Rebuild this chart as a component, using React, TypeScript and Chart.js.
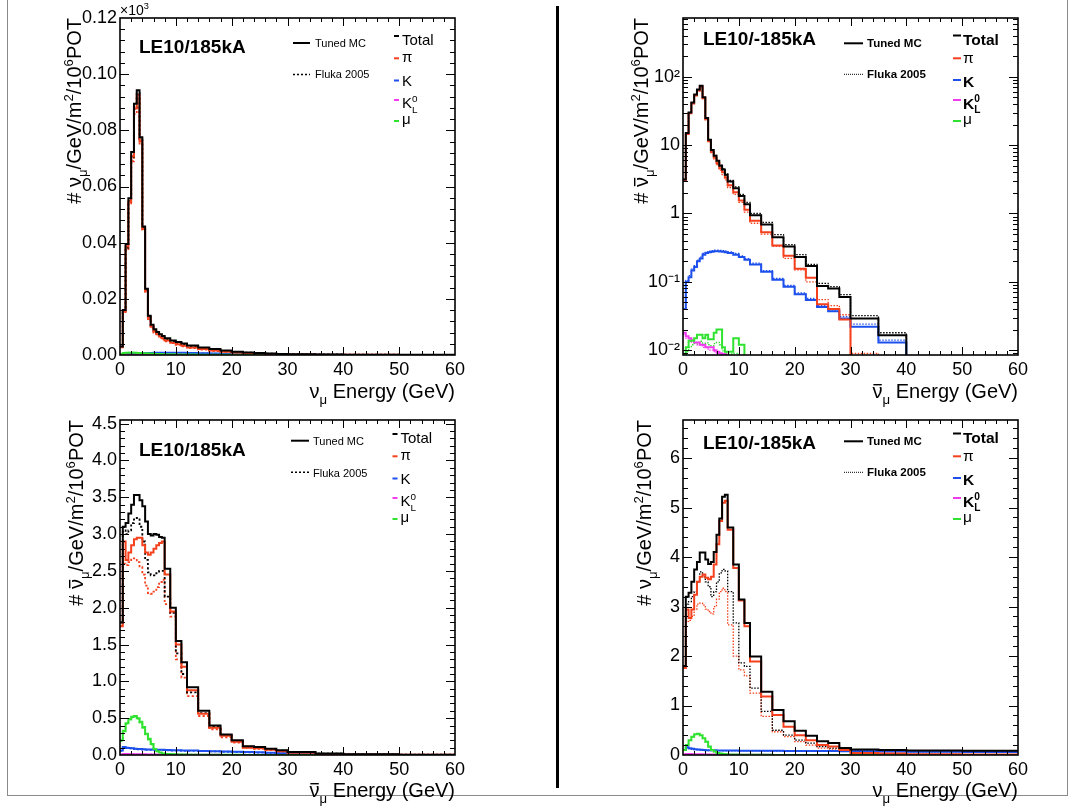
import { useEffect, useRef } from 'react';
import { Chart, registerables } from 'chart.js';

Chart.register(...registerables);

const FONT = "'Liberation Sans', Arial, Helvetica, sans-serif";
const W = 1076;
const H = 808;

// Energy bin edges (GeV) shared by every histogram
const BIN_EDGES = [0, 0.5, 1, 1.5, 2, 2.5, 3, 3.5, 4, 4.5, 5, 5.5, 6, 6.5, 7, 7.5, 8, 9, 10, 11, 12, 14, 16, 18, 20, 22, 24, 26, 28, 30, 35, 40, 50, 60];
const X_TICKS = [0, 10, 20, 30, 40, 50, 60];

// LE10/185kA, nu_mu (units of 10^3)
const P1_TOTAL_TUNED = [0.0030, 0.0160, 0.0395, 0.0558, 0.0723, 0.0895, 0.0943, 0.0775, 0.0458, 0.0236, 0.0140, 0.0108, 0.0092, 0.0082, 0.0074, 0.0068, 0.0060, 0.0052, 0.0046, 0.0041, 0.0034, 0.0027, 0.0021, 0.0016, 0.0012, 0.0009, 0.0007, 0.0005, 0.0004, 0.0003, 0.0002, 0.0001, 0.00005];
const P1_PI_TUNED = [0.0028, 0.0155, 0.0386, 0.0546, 0.0708, 0.0878, 0.0926, 0.0761, 0.0449, 0.0229, 0.0133, 0.0101, 0.0084, 0.0074, 0.0066, 0.0060, 0.0052, 0.0044, 0.0038, 0.0033, 0.0027, 0.0021, 0.0016, 0.0012, 0.0009, 0.0007, 0.0005, 0.0004, 0.0003, 0.0002, 0.0001, 0.00005, 0.00002];
const P1_K_TUNED = [0.0001, 0.0002, 0.0003, 0.0004, 0.0005, 0.0005, 0.0006, 0.0006, 0.0007, 0.0007, 0.0007, 0.0007, 0.0008, 0.0008, 0.0008, 0.0008, 0.0008, 0.0008, 0.0008, 0.0008, 0.0007, 0.0006, 0.0005, 0.0004, 0.0003, 0.0002, 0.0002, 0.0001, 0.0001, 0.0001, 0.00005, 0.00003, 0.00001];
const P1_K0_TUNED = [0.0001, 0.0001, 0.0001, 0.0001, 0.0001, 0.0001, 0.0001, 0.0001, 0.0001, 0.0001, 0.0001, 0.0001, 0.0001, 0.0001, 0.0001, 0.0001, 0.00008, 0.00007, 0.00006, 0.00005, 0.00004, 0.00003, 0.00002, 0.00002, 0.00001, 0.00001, 0, 0, 0, 0, 0, 0, 0];
const P1_MU_TUNED = [0.0004, 0.0007, 0.0008, 0.0008, 0.0008, 0.0008, 0.0007, 0.0007, 0.0006, 0.0006, 0.0005, 0.0005, 0.0004, 0.0004, 0.0004, 0.0003, 0.0003, 0.0003, 0.0002, 0.0002, 0.0002, 0.0001, 0.0001, 0.0001, 0.00005, 0.00005, 0.00003, 0.00002, 0.00001, 0.00001, 0, 0, 0];
const P1_TOTAL_FLUKA = [0.0030, 0.0158, 0.0382, 0.0548, 0.0706, 0.0876, 0.0932, 0.0768, 0.0455, 0.0233, 0.0136, 0.0103, 0.0087, 0.0077, 0.0069, 0.0063, 0.0056, 0.0049, 0.0043, 0.0038, 0.0031, 0.0025, 0.0019, 0.0015, 0.0011, 0.0008, 0.0006, 0.0005, 0.0004, 0.0003, 0.0002, 0.0001, 0.00005];
const P1_PI_FLUKA = [0.0028, 0.0153, 0.0373, 0.0536, 0.0690, 0.0858, 0.0914, 0.0753, 0.0446, 0.0225, 0.0128, 0.0096, 0.0080, 0.0070, 0.0062, 0.0056, 0.0049, 0.0042, 0.0036, 0.0031, 0.0025, 0.0019, 0.0014, 0.0011, 0.0008, 0.0006, 0.0004, 0.0003, 0.0002, 0.0002, 0.0001, 0.00005, 0.00002];
const P1_K_FLUKA = [0.0001, 0.0002, 0.0003, 0.0004, 0.0004, 0.0005, 0.0005, 0.0006, 0.0006, 0.0006, 0.0007, 0.0007, 0.0007, 0.0007, 0.0007, 0.0007, 0.0007, 0.0007, 0.0007, 0.0007, 0.0006, 0.0006, 0.0005, 0.0004, 0.0003, 0.0002, 0.0002, 0.0001, 0.0001, 0.0001, 0.00005, 0.00003, 0.00001];
const P1_K0_FLUKA = [0.0001, 0.0001, 0.0001, 0.0001, 0.0001, 0.0001, 0.0001, 0.0001, 0.0001, 0.0001, 0.0001, 0.0001, 0.0001, 0.0001, 0.0001, 0.0001, 0.00007, 0.00006, 0.00005, 0.00005, 0.00004, 0.00003, 0.00002, 0.00001, 0.00001, 0.00001, 0, 0, 0, 0, 0, 0, 0];
const P1_MU_FLUKA = [0.0004, 0.0006, 0.0007, 0.0008, 0.0008, 0.0007, 0.0007, 0.0006, 0.0006, 0.0005, 0.0005, 0.0004, 0.0004, 0.0004, 0.0003, 0.0003, 0.0003, 0.0002, 0.0002, 0.0002, 0.0001, 0.0001, 0.0001, 0.00005, 0.00005, 0.00003, 0.00002, 0.00001, 0.00001, 0, 0, 0, 0];

// LE10/-185kA, anti-nu_mu (log scale)
const P2_TOTAL_TUNED = [3.15, 15, 30, 42, 55, 65, 74, 50, 25, 12, 8.5, 7.0, 5.9, 5.0, 4.4, 3.7, 2.95, 2.35, 1.8, 1.36, 0.94, 0.69, 0.45, 0.33, 0.23, 0.17, 0.087, 0.08, 0.06, 0.029, 0.0165, 0.001, 0.001];
const P2_PI_TUNED = [3.1, 14.6, 29.2, 40.8, 53.4, 63, 72, 48.4, 24, 11.4, 8.0, 6.6, 5.5, 4.6, 4.0, 3.35, 2.6, 2.05, 1.55, 1.13, 0.78, 0.53, 0.34, 0.24, 0.155, 0.115, 0.047, 0.04, 0.028, 0.001, 0.001, 0.001, 0.001];
const P2_K_TUNED = [0.04, 0.1, 0.117, 0.147, 0.165, 0.2, 0.22, 0.25, 0.265, 0.27, 0.275, 0.28, 0.28, 0.278, 0.275, 0.27, 0.265, 0.25, 0.23, 0.21, 0.18, 0.14, 0.107, 0.085, 0.066, 0.054, 0.043, 0.037, 0.029, 0.022, 0.013, 0.001, 0.001];
const P2_K0_TUNED = [0.018, 0.016, 0.015, 0.014, 0.013, 0.013, 0.012, 0.012, 0.011, 0.011, 0.011, 0.010, 0.0095, 0.009, 0.0088, 0.0086, 0.005, 0.003, 0.002, 0.001, 0.001, 0.001, 0.001, 0.001, 0.001, 0.001, 0.001, 0.001, 0.001, 0.001, 0.001, 0.001, 0.001];
const P2_MU_TUNED = [0.0088, 0.011, 0.0137, 0.0137, 0.015, 0.0168, 0.0168, 0.015, 0.0168, 0.0145, 0.0145, 0.018, 0.020, 0.020, 0.011, 0.0095, 0.0095, 0.015, 0.012, 0.007, 0.001, 0.001, 0.001, 0.001, 0.001, 0.001, 0.001, 0.001, 0.001, 0.001, 0.001, 0.001, 0.001];
const P2_TOTAL_FLUKA = [3.15, 15, 30, 42, 55, 64, 73, 50, 25, 12, 8.6, 7.1, 6.0, 5.1, 4.5, 3.8, 3.05, 2.45, 1.9, 1.45, 1.0, 0.74, 0.49, 0.35, 0.25, 0.18, 0.095, 0.085, 0.065, 0.032, 0.018, 0.001, 0.001];
const P2_PI_FLUKA = [3.1, 14.5, 29, 40.5, 53, 62, 71, 48, 23.5, 11.2, 7.8, 6.3, 5.2, 4.3, 3.7, 3.1, 2.4, 1.9, 1.45, 1.05, 0.72, 0.5, 0.33, 0.22, 0.15, 0.1, 0.055, 0.045, 0.033, 0.009, 0.001, 0.001, 0.001];
const P2_K_FLUKA = [0.04, 0.105, 0.123, 0.153, 0.172, 0.207, 0.23, 0.26, 0.275, 0.282, 0.287, 0.29, 0.29, 0.288, 0.285, 0.28, 0.274, 0.26, 0.24, 0.218, 0.188, 0.146, 0.112, 0.089, 0.069, 0.057, 0.045, 0.039, 0.031, 0.024, 0.014, 0.001, 0.001];
const P2_K0_FLUKA = [0.017, 0.015, 0.014, 0.013, 0.013, 0.012, 0.012, 0.011, 0.011, 0.010, 0.010, 0.0095, 0.009, 0.0088, 0.0086, 0.0084, 0.004, 0.002, 0.001, 0.001, 0.001, 0.001, 0.001, 0.001, 0.001, 0.001, 0.001, 0.001, 0.001, 0.001, 0.001, 0.001, 0.001];
const P2_MU_FLUKA = [0.008, 0.0095, 0.011, 0.012, 0.0125, 0.013, 0.0135, 0.012, 0.0128, 0.012, 0.011, 0.0125, 0.013, 0.012, 0.0098, 0.009, 0.0088, 0.009, 0.008, 0.001, 0.001, 0.001, 0.001, 0.001, 0.001, 0.001, 0.001, 0.001, 0.001, 0.001, 0.001, 0.001, 0.001];

// LE10/185kA, anti-nu_mu
const P3_TOTAL_TUNED = [1.8, 3.1, 3.15, 3.28, 3.4, 3.53, 3.53, 3.46, 3.38, 3.17, 3.0, 2.98, 3.0, 2.99, 2.96, 2.95, 2.53, 2.0, 1.55, 1.26, 0.92, 0.6, 0.4, 0.28, 0.2, 0.12, 0.11, 0.086, 0.064, 0.04, 0.02, 0.01, 0.005];
const P3_PI_TUNED = [1.75, 2.9, 2.65, 2.75, 2.85, 2.93, 2.95, 2.95, 2.85, 2.75, 2.72, 2.75, 2.8, 2.85, 2.88, 2.9, 2.45, 1.95, 1.5, 1.2, 0.88, 0.56, 0.37, 0.26, 0.18, 0.1, 0.09, 0.07, 0.05, 0.03, 0.015, 0.007, 0.003];
const P3_K_TUNED = [0.06, 0.11, 0.1, 0.095, 0.09, 0.085, 0.082, 0.08, 0.078, 0.076, 0.075, 0.074, 0.073, 0.072, 0.071, 0.07, 0.068, 0.066, 0.064, 0.062, 0.06, 0.056, 0.052, 0.048, 0.044, 0.04, 0.036, 0.03, 0.025, 0.015, 0.008, 0.003, 0.001];
const P3_K0_TUNED = [0.005, 0.012, 0.012, 0.011, 0.011, 0.01, 0.01, 0.009, 0.009, 0.008, 0.008, 0.007, 0.007, 0.006, 0.006, 0.005, 0.005, 0.004, 0.004, 0.003, 0.003, 0.002, 0.002, 0.001, 0.001, 0.001, 0, 0, 0, 0, 0, 0, 0];
const P3_MU_TUNED = [0.2, 0.33, 0.43, 0.49, 0.52, 0.53, 0.5, 0.45, 0.38, 0.29, 0.22, 0.15, 0.08, 0.05, 0.035, 0.02, 0.012, 0.01, 0.008, 0.006, 0.005, 0.004, 0.003, 0.002, 0.002, 0.001, 0.001, 0, 0, 0, 0, 0, 0];
const P3_TOTAL_FLUKA = [1.8, 3.05, 3.0, 3.05, 3.15, 3.2, 3.22, 3.1, 2.9, 2.65, 2.48, 2.44, 2.44, 2.47, 2.5, 2.5, 2.15, 1.93, 1.38, 1.1, 0.85, 0.57, 0.38, 0.27, 0.19, 0.115, 0.1, 0.08, 0.06, 0.038, 0.018, 0.009, 0.004];
const P3_PI_FLUKA = [1.75, 2.6, 2.58, 2.62, 2.67, 2.67, 2.62, 2.55, 2.45, 2.3, 2.2, 2.19, 2.22, 2.28, 2.35, 2.38, 2.05, 1.88, 1.3, 1.05, 0.8, 0.53, 0.35, 0.24, 0.17, 0.1, 0.085, 0.066, 0.047, 0.028, 0.013, 0.006, 0.003];
const P3_K_FLUKA = [0.055, 0.1, 0.095, 0.09, 0.085, 0.08, 0.077, 0.075, 0.073, 0.071, 0.07, 0.069, 0.068, 0.067, 0.066, 0.065, 0.063, 0.061, 0.059, 0.057, 0.055, 0.052, 0.048, 0.044, 0.04, 0.037, 0.033, 0.028, 0.023, 0.014, 0.007, 0.003, 0.001];
const P3_K0_FLUKA = [0.005, 0.011, 0.011, 0.01, 0.01, 0.009, 0.009, 0.008, 0.008, 0.007, 0.007, 0.006, 0.006, 0.005, 0.005, 0.005, 0.004, 0.004, 0.003, 0.003, 0.002, 0.002, 0.001, 0.001, 0.001, 0, 0, 0, 0, 0, 0, 0, 0];
const P3_MU_FLUKA = [0.19, 0.32, 0.42, 0.48, 0.51, 0.52, 0.49, 0.44, 0.37, 0.28, 0.21, 0.14, 0.075, 0.045, 0.03, 0.018, 0.011, 0.009, 0.007, 0.005, 0.004, 0.003, 0.002, 0.002, 0.001, 0.001, 0, 0, 0, 0, 0, 0, 0];

// LE10/-185kA, nu_mu
const P4_TOTAL_TUNED = [1.8, 3.2, 3.28, 3.5, 3.75, 3.9, 4.09, 4.09, 3.95, 3.86, 3.9, 4.1, 4.45, 4.78, 5.22, 5.26, 4.6, 3.85, 3.14, 2.67, 1.99, 1.28, 0.91, 0.68, 0.49, 0.39, 0.28, 0.24, 0.14, 0.11, 0.1, 0.09, 0.085];
const P4_PI_TUNED = [1.76, 2.94, 2.77, 2.94, 3.24, 3.5, 3.6, 3.65, 3.58, 3.55, 3.6, 3.85, 4.26, 4.73, 5.1, 5.14, 4.55, 3.78, 3.12, 2.6, 1.89, 1.18, 0.81, 0.57, 0.4, 0.3, 0.2, 0.17, 0.1, 0.04, 0.03, 0.015, 0.01];
const P4_K_TUNED = [0.1, 0.155, 0.135, 0.125, 0.115, 0.11, 0.105, 0.1, 0.098, 0.096, 0.095, 0.094, 0.093, 0.092, 0.091, 0.09, 0.09, 0.089, 0.088, 0.087, 0.086, 0.085, 0.084, 0.083, 0.082, 0.081, 0.08, 0.079, 0.078, 0.076, 0.073, 0.068, 0.06];
const P4_K0_TUNED = [0.01, 0.02, 0.018, 0.016, 0.015, 0.014, 0.013, 0.012, 0.011, 0.01, 0.01, 0.009, 0.009, 0.008, 0.008, 0.007, 0.007, 0.006, 0.005, 0.005, 0.004, 0.003, 0.002, 0.002, 0.001, 0.001, 0.001, 0, 0, 0, 0, 0, 0];
const P4_MU_TUNED = [0.1, 0.2, 0.3, 0.37, 0.42, 0.43, 0.4, 0.34, 0.27, 0.17, 0.1, 0.07, 0.04, 0.03, 0.02, 0.015, 0.01, 0.008, 0.006, 0.005, 0.004, 0.003, 0.002, 0.001, 0.001, 0, 0, 0, 0, 0, 0, 0, 0];
const P4_TOTAL_FLUKA = [1.8, 3.05, 3.1, 3.2, 3.3, 3.5, 3.7, 3.6, 3.5, 3.4, 3.2, 3.3, 3.5, 3.68, 3.75, 3.72, 3.3, 2.67, 1.86, 1.79, 1.35, 0.88, 0.5, 0.4, 0.3, 0.24, 0.17, 0.14, 0.1, 0.1, 0.09, 0.085, 0.08];
const P4_PI_FLUKA = [1.76, 2.7, 2.72, 2.8, 2.95, 3.05, 3.07, 3.03, 2.95, 2.9, 2.85, 3.0, 3.15, 3.3, 3.37, 3.3, 2.63, 2.0, 1.72, 1.6, 1.25, 0.78, 0.47, 0.37, 0.27, 0.2, 0.14, 0.12, 0.08, 0.03, 0.02, 0.01, 0.005];
const P4_K_FLUKA = [0.095, 0.148, 0.128, 0.118, 0.109, 0.104, 0.1, 0.095, 0.093, 0.091, 0.09, 0.089, 0.088, 0.087, 0.086, 0.086, 0.085, 0.085, 0.084, 0.083, 0.082, 0.081, 0.08, 0.079, 0.078, 0.077, 0.076, 0.075, 0.074, 0.072, 0.069, 0.064, 0.057];
const P4_K0_FLUKA = [0.01, 0.019, 0.017, 0.015, 0.014, 0.013, 0.012, 0.011, 0.01, 0.01, 0.009, 0.009, 0.008, 0.008, 0.007, 0.007, 0.006, 0.006, 0.005, 0.004, 0.004, 0.003, 0.002, 0.001, 0.001, 0.001, 0, 0, 0, 0, 0, 0, 0];
const P4_MU_FLUKA = [0.095, 0.19, 0.29, 0.36, 0.41, 0.42, 0.39, 0.33, 0.26, 0.16, 0.095, 0.065, 0.038, 0.028, 0.018, 0.013, 0.009, 0.007, 0.005, 0.004, 0.003, 0.002, 0.002, 0.001, 0.001, 0, 0, 0, 0, 0, 0, 0, 0];

// Y-axis tick values and their labels
const Y1_TICKS = [0, 0.02, 0.04, 0.06, 0.08, 0.1, 0.12];
const Y1_LABELS = ['0.00', '0.02', '0.04', '0.06', '0.08', '0.10', '0.12'];
const Y2_TICKS = [0.01, 0.1, 1, 10, 100];
const Y2_LABELS = ['10⁻²', '10⁻¹', '1', '10', '10²'];
const Y3_TICKS = [0, 0.5, 1, 1.5, 2, 2.5, 3, 3.5, 4, 4.5];
const Y3_LABELS = ['0.0', '0.5', '1.0', '1.5', '2.0', '2.5', '3.0', '3.5', '4.0', '4.5'];
const Y4_TICKS = [0, 1, 2, 3, 4, 5, 6];
const Y4_LABELS = ['0', '1', '2', '3', '4', '5', '6'];

// Component colours: Total, pi, K, K0_L, mu
const COLORS = ['#000000', '#f4401c', '#1d4fec', '#f23cf0', '#30e230'];

type Seg = { t: string; sub?: boolean; sup?: boolean; bar?: boolean; hold?: boolean; w?: string };

const NU: Seg[] = [{ t: 'ν' }, { t: 'μ', sub: true }];
const NUBAR: Seg[] = [{ t: 'ν', bar: true }, { t: 'μ', sub: true }];
const yTitle = (nu: Seg[]): Seg[] => [{ t: '# ' }, ...nu, { t: '/GeV/m' }, { t: '2', sup: true }, { t: '/10' }, { t: '6', sup: true }, { t: 'POT' }];
const xTitle = (nu: Seg[]): Seg[] => [...nu, { t: ' Energy (GeV)' }];

function segFont(size: number, weight: string, s: Seg) {
  const sz = s.sub || s.sup ? size * 0.66 : size;
  return `${s.w || weight} ${sz}px ${FONT}`;
}

function richWidth(ctx: CanvasRenderingContext2D, segs: Seg[], size: number, weight: string) {
  let w = 0;
  let held = 0;
  for (const s of segs) {
    ctx.font = segFont(size, weight, s);
    const sw = ctx.measureText(s.t).width;
    if (s.hold) { held = sw; continue; }
    w += Math.max(sw, held);
    held = 0;
  }
  return w;
}

function drawRich(ctx: CanvasRenderingContext2D, segs: Seg[], x: number, y: number, size: number, weight: string, align: string) {
  const total = richWidth(ctx, segs, size, weight);
  let cx = align === 'right' ? x - total : x;
  ctx.textAlign = 'left';
  ctx.textBaseline = 'alphabetic';
  let held = 0;
  for (const s of segs) {
    ctx.font = segFont(size, weight, s);
    const dy = s.sub ? size * 0.3 : s.sup ? -size * 0.42 : 0;
    ctx.fillText(s.t, cx, y + dy);
    const sw = ctx.measureText(s.t).width;
    if (s.bar) ctx.fillRect(cx + sw * 0.08, y - size * 0.7, sw * 0.84, Math.max(1.2, size * 0.07));
    if (s.hold) { held = sw; continue; }
    cx += Math.max(sw, held);
    held = 0;
  }
}

function linearMarks(max: number, minor: number, major: number) {
  const out: { v: number; major: boolean }[] = [];
  const n = Math.floor(max / minor + 1e-6);
  for (let i = 0; i <= n; i++) {
    const v = i * minor;
    const r = v / major;
    out.push({ v, major: Math.abs(r - Math.round(r)) < 1e-6 });
  }
  return out;
}

function logMarks(min: number, max: number) {
  const out: { v: number; major: boolean }[] = [];
  for (let e = -3; e <= 3; e++) {
    for (let k = 1; k <= 9; k++) {
      const v = k * Math.pow(10, e);
      if (v >= min && v <= max) out.push({ v, major: k === 1 });
    }
  }
  return out;
}

const LEGEND_NAMES: Seg[][] = [
  [{ t: 'Total' }],
  [{ t: 'π', w: 'normal' }],
  [{ t: 'K' }],
  [{ t: 'K' }, { t: '0', sup: true, hold: true }, { t: 'L', sub: true }],
  [{ t: 'μ', w: 'normal' }],
];

function buildPanels() {
  const ROWS_A = [{ d: 36, b: 45 }, { d: 58.3, b: 62 }, { d: 80.5, b: 86 }, { d: 100, b: 108 }, { d: 121, b: 123.5 }];
  const ROWS_B = [{ d: 35.5, b: 45 }, { d: 58.3, b: 63 }, { d: 80, b: 86.7 }, { d: 100, b: 108.5 }, { d: 121, b: 124 }];
  const shift = (rows: any[], dy: number) => rows.map((r) => ({ d: r.d + dy, b: r.b + dy }));
  return [
    {
      area: { left: 120, top: 18, right: 455, bottom: 355 },
      yType: 'linear', yMin: 0, yMax: 0.12, yTicks: Y1_TICKS, yLabels: Y1_LABELS, yMarks: linearMarks(0.12, 0.004, 0.02),
      tuned: [P1_TOTAL_TUNED, P1_PI_TUNED, P1_K_TUNED, P1_K0_TUNED, P1_MU_TUNED],
      fluka: [P1_TOTAL_FLUKA, P1_PI_FLUKA, P1_K_FLUKA, P1_K0_FLUKA, P1_MU_FLUKA],
      dotW: 1.8, dash: [2.2, 2.2],
      xTitle: xTitle(NU), xTitleBase: 398, yTitle: yTitle(NU), yTitleX: 81,
      label: 'LE10/185kA', labelX: 139, labelBase: 53, exponent: true,
      leg: { sx1: 293, sx2: 310, ty: 43, fy: 74.5, tx: 315, tb: 47, fb: 78, ss: 11, sw: 'normal', flukaDash: [2, 2], flukaW: 1.6,
        dx1: 394, dx2: 399, cx: 402, cs: 15, cw: 'normal', rows: ROWS_A },
    },
    {
      area: { left: 683, top: 18, right: 1018, bottom: 355 },
      yType: 'logarithmic', yMin: 0.0085, yMax: 725, yTicks: Y2_TICKS, yLabels: Y2_LABELS, yMarks: logMarks(0.0085, 725),
      tuned: [P2_TOTAL_TUNED, P2_PI_TUNED, P2_K_TUNED, P2_K0_TUNED, P2_MU_TUNED],
      fluka: [P2_TOTAL_FLUKA, P2_PI_FLUKA, P2_K_FLUKA, P2_K0_FLUKA, P2_MU_FLUKA],
      dotW: 1.3, dash: [1.5, 1.5],
      xTitle: xTitle(NUBAR), xTitleBase: 398, yTitle: yTitle(NUBAR), yTitleX: 648,
      label: 'LE10/-185kA', labelX: 703, labelBase: 45, exponent: false,
      leg: { sx1: 844, sx2: 863, ty: 43.3, fy: 74.3, tx: 867, tb: 47.3, fb: 78.3, ss: 11.5, sw: 'bold', flukaDash: [1, 1], flukaW: 1,
        dx1: 953, dx2: 961, cx: 963, cs: 15.5, cw: 'bold', rows: ROWS_B },
    },
    {
      area: { left: 120, top: 420, right: 455, bottom: 755 },
      yType: 'linear', yMin: 0, yMax: 4.55, yTicks: Y3_TICKS, yLabels: Y3_LABELS, yMarks: linearMarks(4.55, 0.1, 0.5),
      tuned: [P3_TOTAL_TUNED, P3_PI_TUNED, P3_K_TUNED, P3_K0_TUNED, P3_MU_TUNED],
      fluka: [P3_TOTAL_FLUKA, P3_PI_FLUKA, P3_K_FLUKA, P3_K0_FLUKA, P3_MU_FLUKA],
      dotW: 1.8, dash: [2.2, 2.2],
      xTitle: xTitle(NUBAR), xTitleBase: 797, yTitle: yTitle(NUBAR), yTitleX: 83,
      label: 'LE10/185kA', labelX: 139, labelBase: 456, exponent: false,
      leg: { sx1: 291, sx2: 309, ty: 440.7, fy: 472.3, tx: 313, tb: 445, fb: 476.7, ss: 11, sw: 'normal', flukaDash: [2, 2], flukaW: 1.6,
        dx1: 392.5, dx2: 397.5, cx: 400.5, cs: 15, cw: 'normal', rows: shift(ROWS_A, 398) },
    },
    {
      area: { left: 683, top: 420, right: 1018, bottom: 755 },
      yType: 'linear', yMin: 0, yMax: 6.77, yTicks: Y4_TICKS, yLabels: Y4_LABELS, yMarks: linearMarks(6.77, 0.2, 1),
      tuned: [P4_TOTAL_TUNED, P4_PI_TUNED, P4_K_TUNED, P4_K0_TUNED, P4_MU_TUNED],
      fluka: [P4_TOTAL_FLUKA, P4_PI_FLUKA, P4_K_FLUKA, P4_K0_FLUKA, P4_MU_FLUKA],
      dotW: 1.3, dash: [1.5, 1.5],
      xTitle: xTitle(NU), xTitleBase: 797, yTitle: yTitle(NU), yTitleX: 651,
      label: 'LE10/-185kA', labelX: 703, labelBase: 449, exponent: false,
      leg: { sx1: 844, sx2: 863, ty: 441.3, fy: 472.3, tx: 867, tb: 445.3, fb: 476.3, ss: 11.5, sw: 'bold', flukaDash: [1, 1], flukaW: 1,
        dx1: 953, dx2: 961, cx: 963, cs: 15.5, cw: 'bold', rows: shift(ROWS_B, 398) },
    },
  ];
}

// Histogram outline: one point per bin's lower edge, plus the upper edge of the last bin
function histPoints(vals: number[]) {
  const pts = vals.map((v, i) => ({ x: BIN_EDGES[i], y: v }));
  pts.push({ x: BIN_EDGES[vals.length], y: vals[vals.length - 1] });
  return pts;
}

function decorPlugin(p: any) {
  return {
    id: 'panelDecor',
    afterDatasetsDraw(chart: any) {
      const ctx: CanvasRenderingContext2D = chart.ctx;
      const a = chart.chartArea;
      const xs = chart.scales.x;
      const ys = chart.scales.y;
      ctx.save();
      ctx.strokeStyle = '#000';
      ctx.fillStyle = '#000';
      ctx.lineWidth = 1;
      ctx.setLineDash([]);
      ctx.beginPath();
      for (let v = 2; v < 60; v += 2) {
        const px = Math.round(xs.getPixelForValue(v)) + 0.5;
        const len = v % 10 === 0 ? 8 : 4;
        ctx.moveTo(px, a.bottom); ctx.lineTo(px, a.bottom - len);
        ctx.moveTo(px, a.top); ctx.lineTo(px, a.top + len);
      }
      for (const m of p.yMarks) {
        const py = Math.round(ys.getPixelForValue(m.v)) + 0.5;
        if (py < a.top + 1 || py > a.bottom - 1) continue;
        const len = m.major ? 9 : 5;
        ctx.moveTo(a.left, py); ctx.lineTo(a.left + len, py);
        ctx.moveTo(a.right, py); ctx.lineTo(a.right - len, py);
      }
      ctx.stroke();
      ctx.lineWidth = 1.6;
      ctx.strokeRect(a.left, a.top, a.right - a.left, a.bottom - a.top);

      // panel label
      ctx.font = `bold 19px ${FONT}`;
      ctx.textAlign = 'left';
      ctx.textBaseline = 'alphabetic';
      ctx.fillText(p.label, p.labelX, p.labelBase);

      // axis titles
      drawRich(ctx, p.xTitle, a.right, p.xTitleBase, 20, 'normal', 'right');
      ctx.save();
      ctx.translate(p.yTitleX, a.top);
      ctx.rotate(-Math.PI / 2);
      drawRich(ctx, p.yTitle, 0, 0, 20, 'normal', 'right');
      ctx.restore();
      if (p.exponent) drawRich(ctx, [{ t: '×10' }, { t: '3', sup: true }], a.left, 15, 14, 'normal', 'left');

      // legend: line styles
      const L = p.leg;
      ctx.lineWidth = 2;
      ctx.beginPath(); ctx.moveTo(L.sx1, L.ty); ctx.lineTo(L.sx2, L.ty); ctx.stroke();
      ctx.lineWidth = L.flukaW;
      ctx.setLineDash(L.flukaDash);
      ctx.beginPath(); ctx.moveTo(L.sx1, L.fy); ctx.lineTo(L.sx2, L.fy); ctx.stroke();
      ctx.setLineDash([]);
      ctx.font = `${L.sw} ${L.ss}px ${FONT}`;
      ctx.fillText('Tuned MC', L.tx, L.tb);
      ctx.fillText('Fluka 2005', L.tx, L.fb);

      // legend: components
      L.rows.forEach((r: any, i: number) => {
        ctx.strokeStyle = COLORS[i];
        ctx.lineWidth = 2;
        ctx.beginPath(); ctx.moveTo(L.dx1, r.d); ctx.lineTo(L.dx2, r.d); ctx.stroke();
        ctx.fillStyle = '#000';
        drawRich(ctx, LEGEND_NAMES[i], L.cx, r.b, L.cs, L.cw, 'left');
      });
      ctx.restore();
    },
  };
}

function makeChart(canvas: HTMLCanvasElement, p: any) {
  const order = [0, 1, 4, 3, 2];
  const datasets: any[] = [];
  const mk = (vals: number[], i: number, width: number, dash: number[]) => ({
    data: histPoints(vals),
    borderColor: COLORS[i],
    borderWidth: width,
    borderDash: dash,
    stepped: 'before',
    pointRadius: 0,
    fill: false,
    tension: 0,
  });
  for (const i of order) datasets.push(mk(p.tuned[i], i, 2, []));
  for (const i of order) datasets.push(mk(p.fluka[i], i, p.dotW, p.dash));

  const tickFont = { family: FONT, size: 18 };
  return new Chart(canvas, {
    type: 'line',
    data: { datasets },
    options: {
      responsive: false,
      maintainAspectRatio: false,
      animation: false,
      devicePixelRatio: 1,
      events: [],
      layout: { padding: { left: 0, top: p.area.top, right: W - p.area.right, bottom: 0 } },
      plugins: { legend: { display: false }, tooltip: { enabled: false } },
      scales: {
        x: {
          type: 'linear', min: 0, max: 60,
          grid: { display: false, drawTicks: false },
          border: { display: false },
          afterBuildTicks: (s: any) => { s.ticks = X_TICKS.map((v) => ({ value: v })); },
          afterFit: (s: any) => { s.height = H - p.area.bottom; },
          ticks: { color: '#000', font: tickFont, padding: 4, autoSkip: false, maxRotation: 0, minRotation: 0, callback: (v: any) => String(v) },
        },
        y: {
          type: p.yType, min: p.yMin, max: p.yMax,
          grid: { display: false, drawTicks: false },
          border: { display: false },
          afterBuildTicks: (s: any) => { s.ticks = p.yTicks.map((v: number) => ({ value: v })); },
          afterFit: (s: any) => { s.width = p.area.left; },
          ticks: { color: '#000', font: tickFont, padding: 3, autoSkip: false, callback: (_v: any, i: number) => p.yLabels[i] },
        },
      },
    } as any,
    plugins: [decorPlugin(p)],
  });
}

export default function App() {
  const refs = [useRef<HTMLCanvasElement>(null), useRef<HTMLCanvasElement>(null), useRef<HTMLCanvasElement>(null), useRef<HTMLCanvasElement>(null)];

  useEffect(() => {
    const panels = buildPanels();
    const charts = panels.map((p, i) => makeChart(refs[i].current as HTMLCanvasElement, p));
    return () => charts.forEach((c) => c.destroy());
  }, []);

  const abs: any = { position: 'absolute', left: 0, top: 0 };
  return (
    <div style={{ position: 'absolute', left: 0, top: 0, width: W, height: H, background: '#fff', overflow: 'hidden' }}>
      <div style={{ position: 'absolute', left: 7, top: 0, width: 1, height: 795, background: '#8a8a8a' }} />
      <div style={{ position: 'absolute', left: 7, top: 795, width: 1061, height: 1, background: '#8a8a8a' }} />
      <div style={{ position: 'absolute', left: 1067, top: 0, width: 1, height: 796, background: '#8a8a8a' }} />
      <div style={{ position: 'absolute', left: 556, top: 6, width: 3, height: 782, background: '#000' }} />
      {refs.map((r, i) => (
        <canvas key={i} ref={r} width={W} height={H} style={{ ...abs, width: W, height: H }} />
      ))}
    </div>
  );
}
